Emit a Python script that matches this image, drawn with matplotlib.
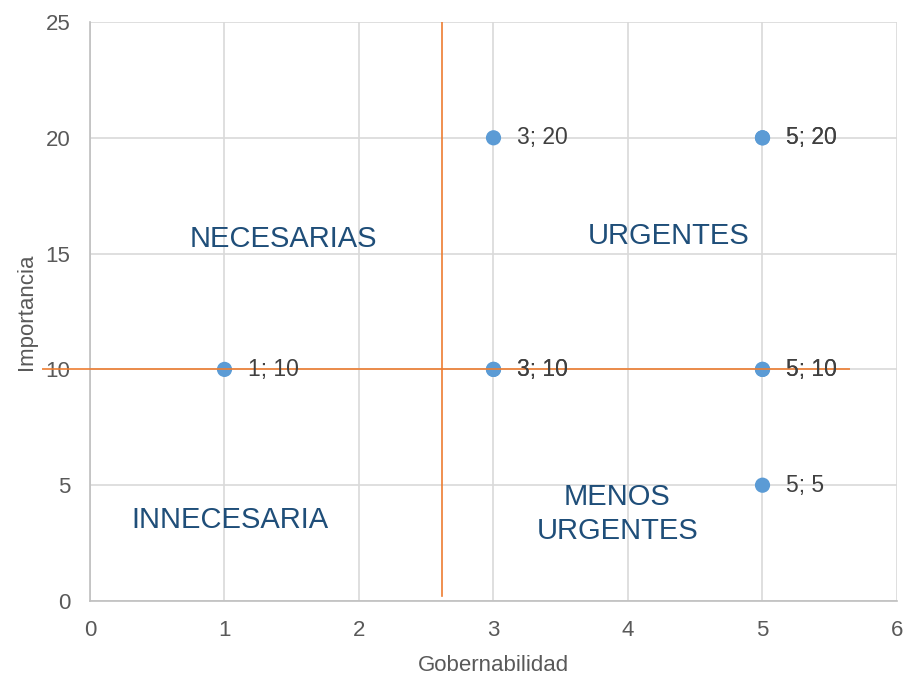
import matplotlib
matplotlib.use("Agg")
import matplotlib.pyplot as plt

# Data (duplicated points appear overlaid in the original)
gobernabilidad = [1, 3, 3, 3, 5, 5, 5, 5, 5]
importancia = [10, 20, 10, 10, 20, 20, 10, 10, 5]

# Divider lines
v_line_x = 2.62
v_line_y = [0.2, 25]
h_line_y = 10
h_line_x = [-0.35, 5.64]

quadrants = [
    ("NECESARIAS", 1.44, 15.65),
    ("URGENTES", 4.30, 15.75),
    ("INNECESARIA", 1.04, 3.5),
    ("MENOS\nURGENTES", 3.92, 3.75),
]

plt.rcParams['font.family'] = ['Liberation Sans', 'DejaVu Sans']

fig = plt.figure(figsize=(9.04, 6.77), dpi=100)
ax = fig.add_axes([90/904, 76/677, (897-90)/904, (601-22)/677])

ax.set_xlim(0, 6)
ax.set_ylim(0, 25)
ax.set_xticks(range(0, 7))
ax.set_yticks(range(0, 26, 5))
ax.grid(True, color='#D9D9D9', linewidth=1.2)
ax.set_axisbelow(True)
for s in ['top', 'right']:
    ax.spines[s].set_visible(False)
for s in ['left', 'bottom']:
    ax.spines[s].set_color('#BFBFBF')
    ax.spines[s].set_linewidth(1.2)
ax.tick_params(length=0, labelsize=16, labelcolor='#595959')
ax.tick_params(axis='x', pad=14)
ax.tick_params(axis='y', pad=14)

ax.plot([v_line_x, v_line_x], v_line_y, color='#ED7D31', linewidth=1.2, zorder=2)
ax.plot(h_line_x, [h_line_y, h_line_y], color='#ED7D31', linewidth=1.4, zorder=4,
        clip_on=False, alpha=0.85)

ax.scatter(gobernabilidad, importancia, s=120, color='#5B9BD5', zorder=3, edgecolors='none')
for x, y in zip(gobernabilidad, importancia):
    ax.annotate(f"{x}; {y}", (x, y), xytext=(17, 0), textcoords='offset points',
                va='center', ha='left', fontsize=16.5, color='#404040', zorder=5)

for txt, x, y in quadrants:
    ax.text(x, y, txt, ha='center', va='center', fontsize=21, color='#1F4E79',
            linespacing=1.25)

ax.set_xlabel("Gobernabilidad", fontsize=16, color='#595959', labelpad=10)
ax.set_ylabel("Importancia", fontsize=16, color='#595959', labelpad=6)

fig.savefig("out.png", dpi=100)
